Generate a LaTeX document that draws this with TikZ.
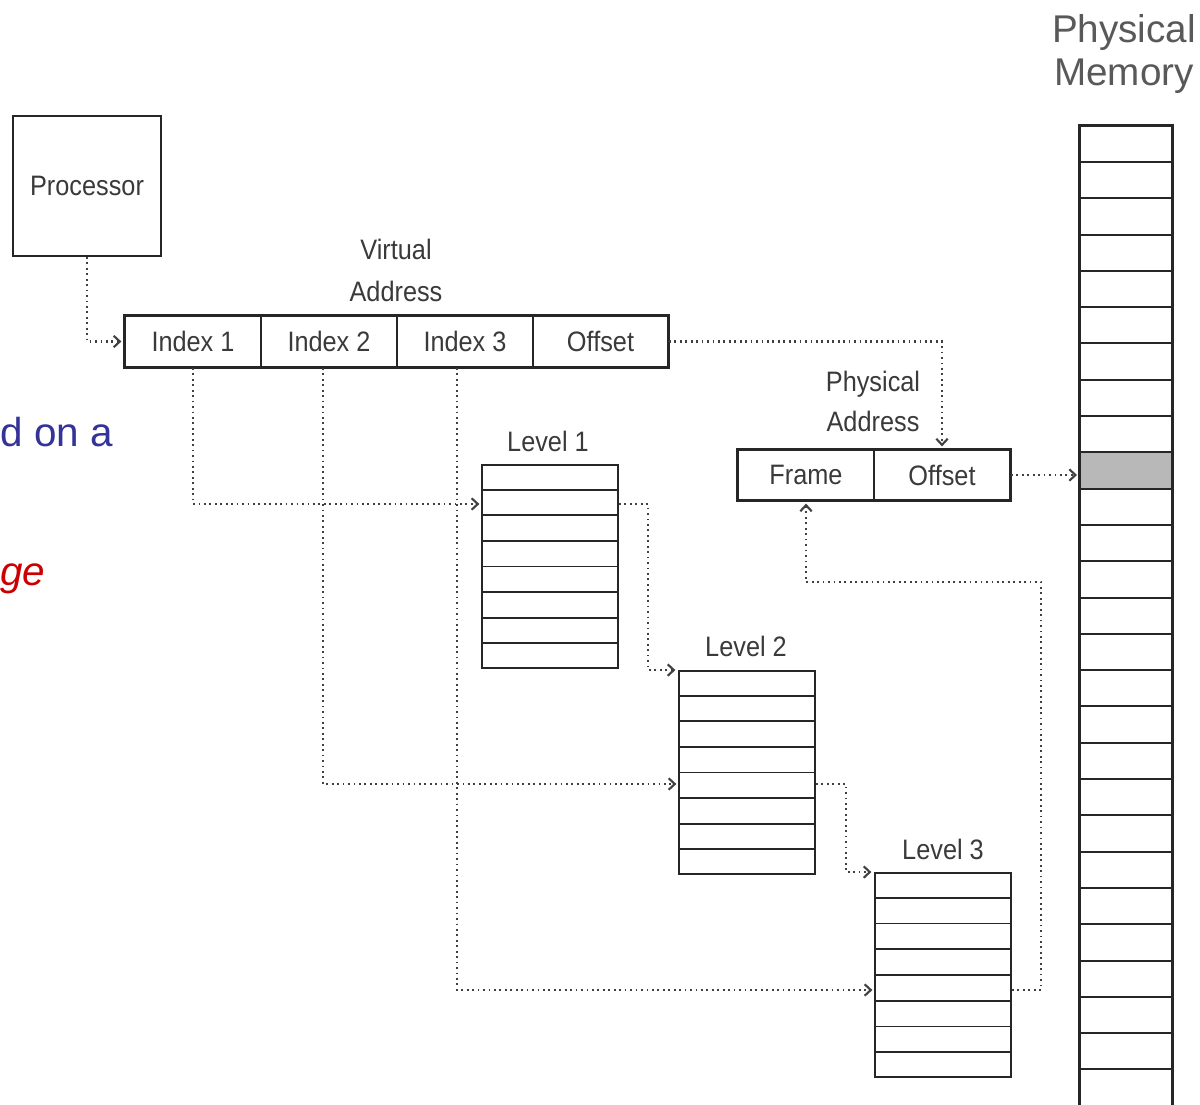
\documentclass[tikz,border=0pt]{standalone}
\usepackage{fontspec}
\setmainfont{Liberation Sans}
\newfontfamily\diagfont[FakeStretch=0.9]{Liberation Sans}
\usetikzlibrary{arrows.meta,calc,fit}
\definecolor{inkc}{HTML}{3A3A3A}
\definecolor{slideblue}{HTML}{333399}
\definecolor{slidered}{HTML}{CC0000}
\tikzset{
  lbl/.style={font=\diagfont\fontsize{16}{19}\selectfont, text=inkc, inner sep=0},
  box/.style={draw=black!85, line width=1.1pt, inner sep=0},
  outer/.style={draw=black!85, line width=1.6pt},
  conn/.style={draw=black!75, line width=1.4pt, dash pattern=on 1pt off 2.1pt,
    -{Straight Barb[length=3.5pt,width=6.5pt,line width=1.2pt]}, shorten >=1.5pt},
  rowline/.style={draw=black!85, line width=1.1pt},
}
\begin{document}
\begin{tikzpicture}[x=0.02cm,y=-0.02cm]
\useasboundingbox (0,0) rectangle (1200,1105);
\clip (0,0) rectangle (1200,1105);

% slide text fragments
\node[anchor=base west, inner sep=0, font=\fontsize{23}{27}\selectfont, text=slideblue] (s1) at (0,446) {d on a};
\node[anchor=base west, inner sep=0, font=\itshape\fontsize{23}{27}\selectfont, text=slidered] (s2) at (0,585) {ge};

% processor
\node[box, fit={(13,116)(161,256)}] (proc) {};
\node[lbl] at (proc.center) {Processor};

% virtual address
\node[box, fit={(125,316)(261,367)}] (V1) {};
\node[box, fit={(261,316)(397,367)}] (V2) {};
\node[box, fit={(397,316)(533,367)}] (V3) {};
\node[box, fit={(533,316)(668,367)}] (V4) {};
\draw[outer] (V1.north west) rectangle (V4.south east);
\node[lbl] at (V1.center) {Index 1};
\node[lbl] at (V2.center) {Index 2};
\node[lbl] at (V3.center) {Index 3};
\node[lbl] at (V4.center) {Offset};
\node[lbl, anchor=base] (va1) at (396,259) {Virtual};
\node[lbl, anchor=base] (va2) at (396,301) {Address};

% physical address
\node[box, fit={(738,450)(874,500)}] (PA1) {};
\node[box, fit={(874,450)(1010,500)}] (PA2) {};
\draw[outer] (PA1.north west) rectangle (PA2.south east);
\node[lbl] at (PA1.center) {Frame};
\node[lbl] at (PA2.center) {Offset};
\node[lbl, anchor=base] (pa1) at (873,391) {Physical};
\node[lbl, anchor=base] (pa2) at (873,431) {Address};

% page tables
\node[box, fit={(482,465)(618,668)}] (L1) {};
\node[box, fit={(679,671)(815,874)}] (L2) {};
\node[box, fit={(875,873)(1011,1077)}] (L3) {};
\foreach \t in {L1,L2,L3}{
  \foreach \k in {1,...,7}
    \draw[rowline] ($(\t.north west)!\k/8!(\t.south west)$) -- ($(\t.north east)!\k/8!(\t.south east)$);
}
\node[lbl, anchor=base] (l1) at (548,451) {Level 1};
\node[lbl, anchor=base] (l2) at (746,656) {Level 2};
\node[lbl, anchor=base] (l3) at (943,859) {Level 3};

\coordinate (L1in) at (482,504);
\coordinate (L2in) at (679,784);
\coordinate (L3in) at (875,990);

% physical memory
\node[fill=black!28, inner sep=0, fit={(1080,452.7)(1172,489)}] (hit) {};
\node[inner sep=0, fit={(1080,126)(1172,1115)}] (PM) {};
\foreach \k in {1,...,26}
  \draw[rowline] ($(PM.north west)+(0,{36.3*\k})$) -- ($(PM.north east)+(0,{36.3*\k})$);
\draw[line width=1.4pt, draw=black!85] (PM.south west) -- (PM.north west) -- (PM.north east) -- (PM.south east);
\node[anchor=base, inner sep=0, font=\fontsize{22}{26}\selectfont, text=black!65] (pm1) at (1124,43) {Physical};
\node[anchor=base, inner sep=0, font=\fontsize{22}{26}\selectfont, text=black!65] (pm2) at (1124,86) {Memory};

% connectors
\draw[conn] (proc.south) |- (V1.west);
\draw[conn] (V4.east) -| (PA2.north);
\draw[conn] (PA2.east) -- (PA2.east -| hit.west);
\draw[conn] (V1.south) |- (L1in);
\draw[conn] (L1.east |- L1in) -- ++(29,0) |- (L2.north west);
\draw[conn] ($(V2.south)+(-6,0)$) |- (L2in);
\draw[conn] (L2.east |- L2in) -- ++(30,0) |- (L3.north west);
\draw[conn] ($(V3.south)+(-8,0)$) |- (L3in);
\draw[conn] (L3.east |- L3in) -- ++(29,0) |- ($(PA1.south)+(0,81)$) -- (PA1.south);
\end{tikzpicture}
\end{document}
